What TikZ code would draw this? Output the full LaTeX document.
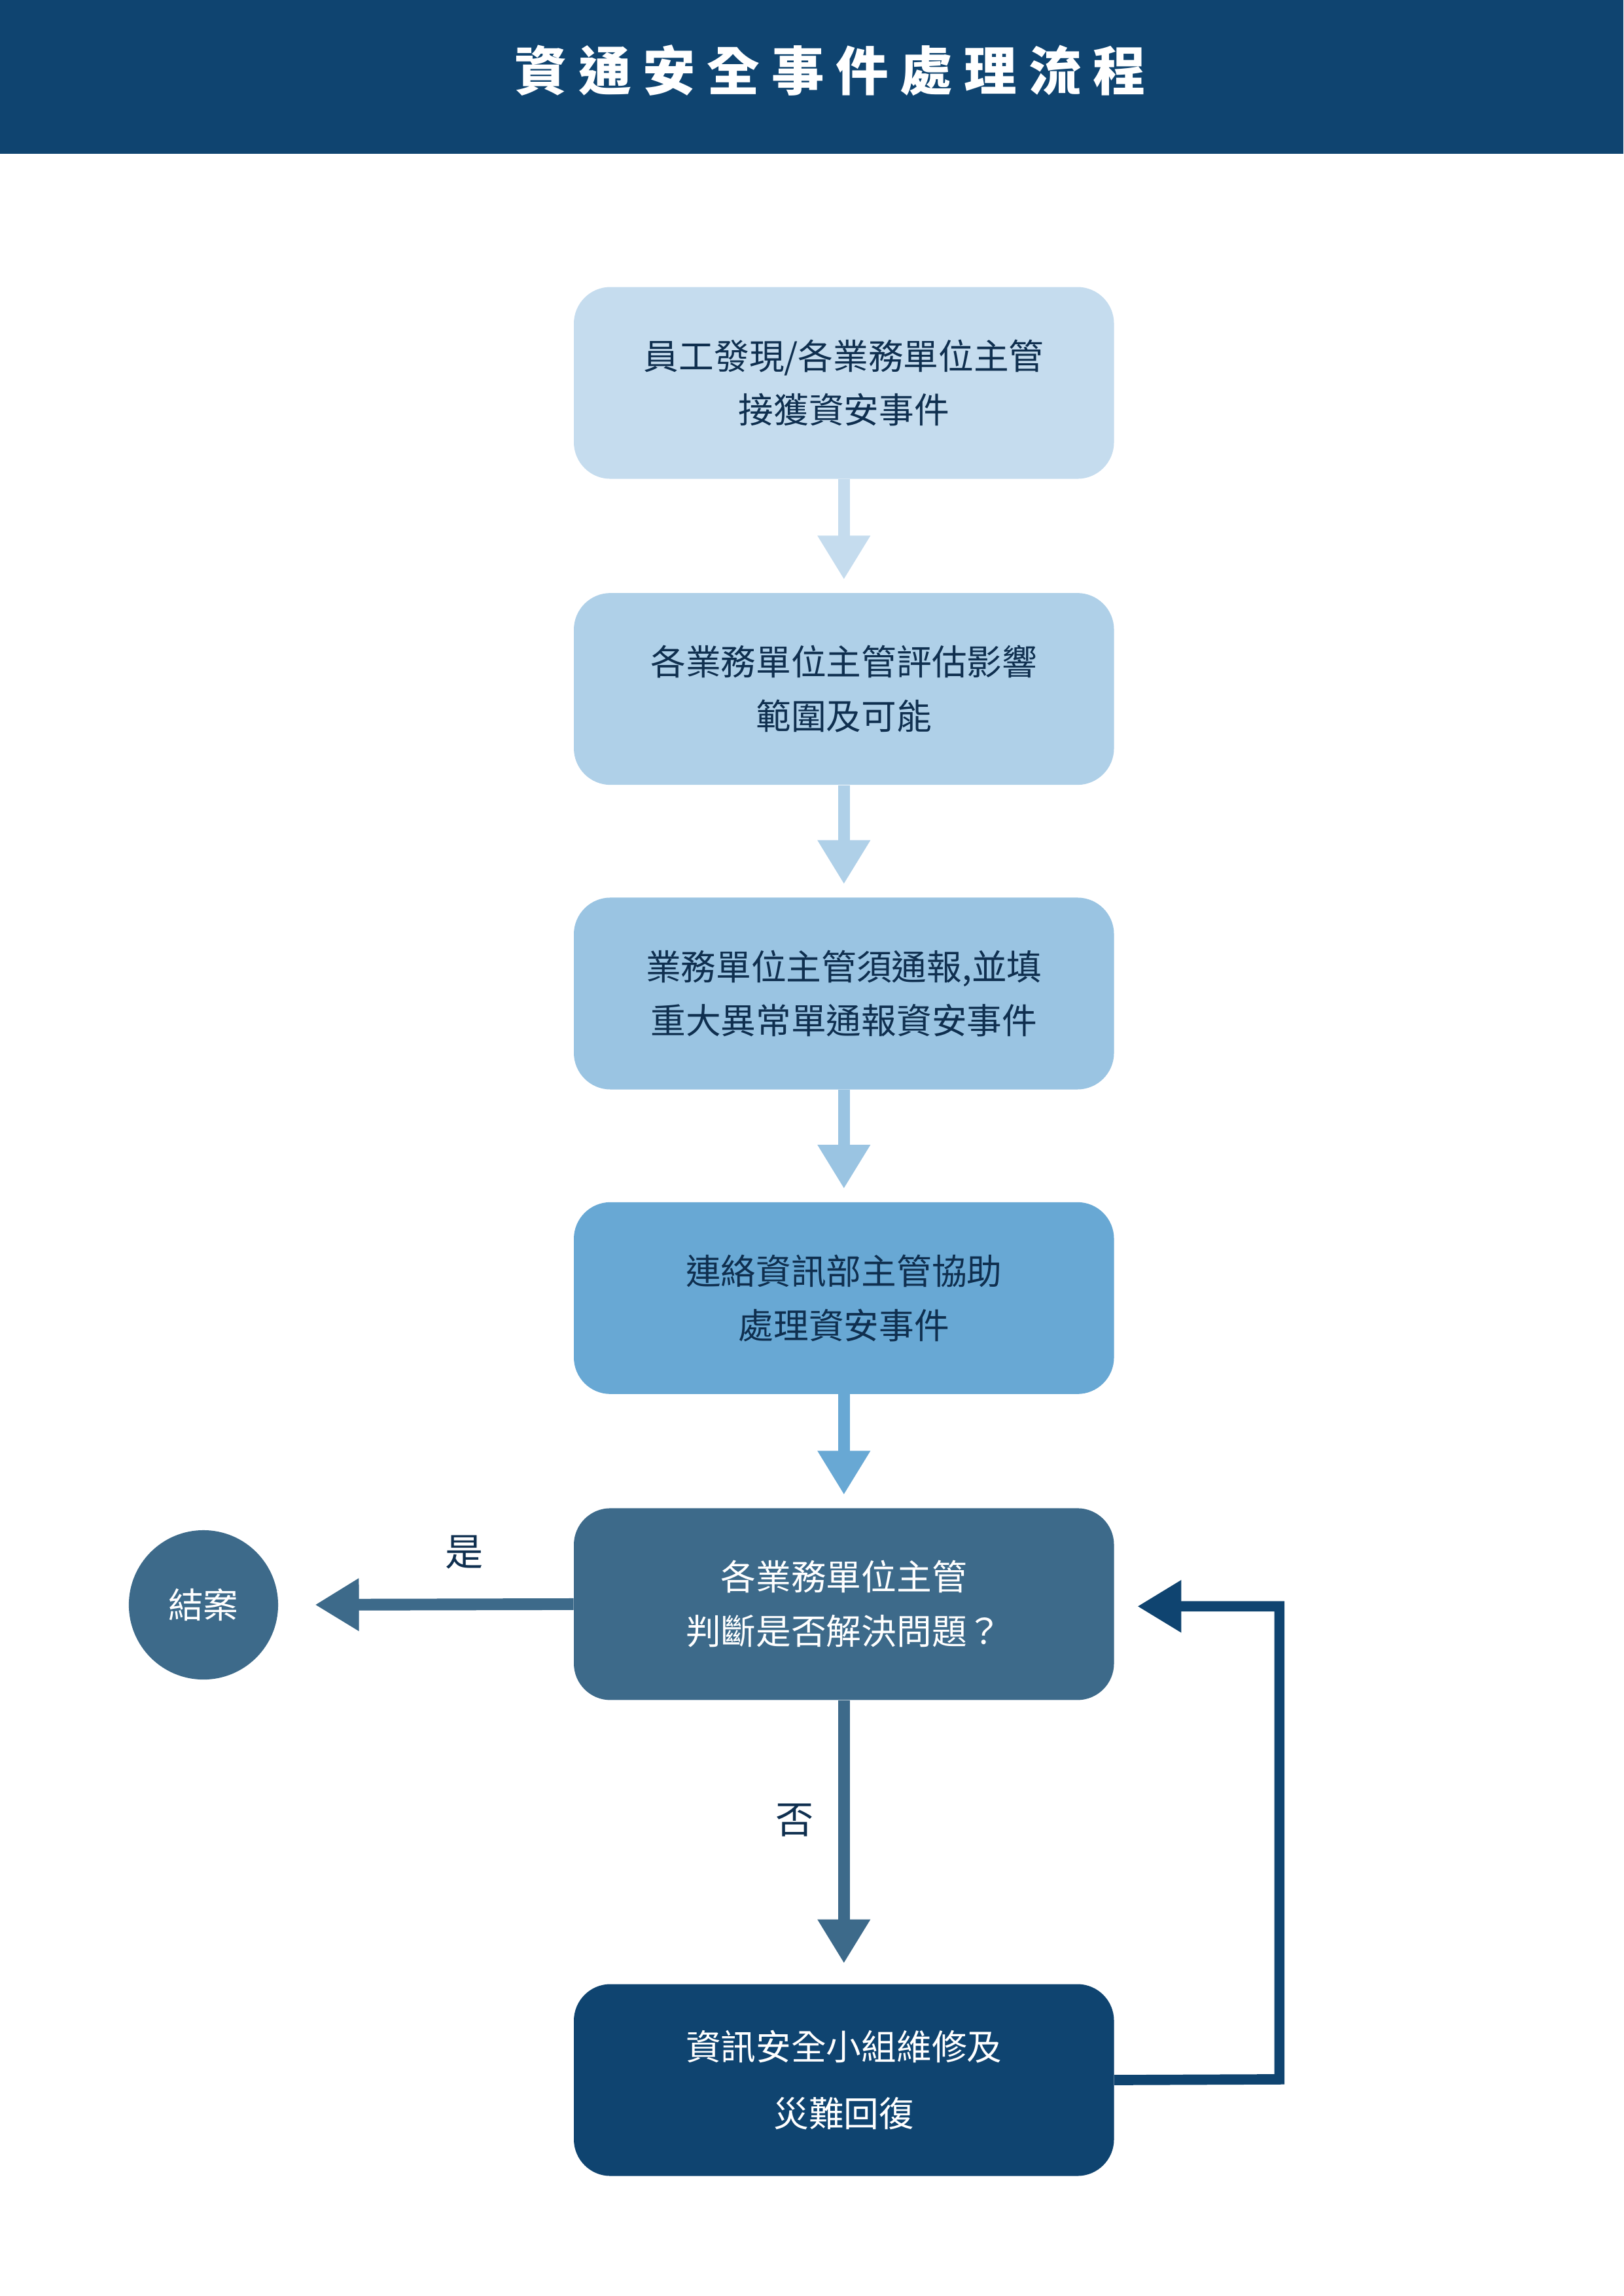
\documentclass[tikz,border=0pt]{standalone}
\usepackage{fontspec}
\setmainfont{Noto Sans CJK TC}
\usetikzlibrary{arrows.meta}
\definecolor{cA}{HTML}{C5DCEE}
\definecolor{cB}{HTML}{AFD0E8}
\definecolor{cC}{HTML}{9AC4E2}
\definecolor{cD}{HTML}{68A8D4}
\definecolor{cE}{HTML}{3D6A8A}
\definecolor{cF}{HTML}{0F4470}
\definecolor{txt}{HTML}{0F2F4F}
\begin{document}
\begin{tikzpicture}[x=1pt,y=-1pt,
  box/.style={draw=none,rounded corners=25pt,minimum width=369pt,minimum height=131pt,align=center,
    font=\fontsize{24}{37}\selectfont,text=txt,inner sep=0pt},
  arr/.style={line width=8pt,-{Triangle[width=34pt,length=30pt]},shorten >=9pt},
  lbl/.style={font=\fontsize{26}{30}\selectfont,text=txt}]
\useasboundingbox (0,0) rectangle (1109,1568);
\fill[cF] (0,0) rectangle (1109,105);
\node[text=white,font=\fontsize{36}{40}\selectfont\bfseries\addfontfeature{LetterSpace=22}] (title) at (567,48) {資通安全事件處理流程};
\node[box,fill=cA] (b1) at (576.5,261.5) {員工發現/各業務單位主管\\接獲資安事件};
\node[box,fill=cB] (b2) at (576.5,470.5) {各業務單位主管評估影響\\範圍及可能};
\node[box,fill=cC] (b3) at (576.5,678.5) {業務單位主管須通報,並填\\重大異常單通報資安事件};
\node[box,fill=cD] (b4) at (576.5,886.5) {連絡資訊部主管協助\\處理資安事件};
\node[box,fill=cE,text=white] (b5) at (576.5,1095.5) {各業務單位主管\\判斷是否解決問題？};
\node[box,fill=cF,text=white,font=\fontsize{24}{46}\selectfont] (b6) at (576.5,1420.5) {資訊安全小組維修及\\災難回復};
\node[circle,fill=cE,minimum size=102pt,text=white,font=\fontsize{24}{30}\selectfont,inner sep=0pt] (end) at (139,1096) {結案};
\draw[arr,cA] (b1.south) -- (b2.north);
\draw[arr,cB] (b2.south) -- (b3.north);
\draw[arr,cC] (b3.south) -- (b4.north);
\draw[arr,cD] (b4.south) -- (b5.north);
\draw[arr,cE,shorten >=14pt] (b5.south) -- (b6.north);
\draw[arr,cE,shorten >=25pt] (b5.west) -- (end.east);
\coordinate (r1) at (874,1420);
\coordinate (r2) at (874,1097);
\coordinate (r3) at (761,1097);
\draw[arr,cF,line width=7pt,shorten >=16pt] (b6.east) -- (r1) -- (r2) -- (r3);
\node[lbl] (yes) at (317,1060) {是};
\node[lbl] (no) at (543,1243) {否};
\end{tikzpicture}
\end{document}
